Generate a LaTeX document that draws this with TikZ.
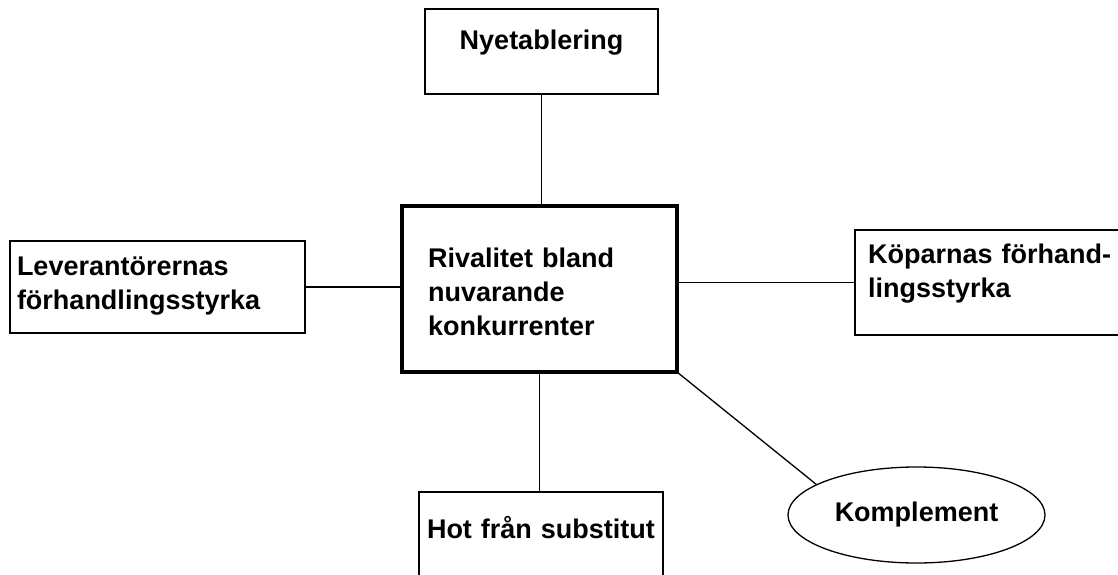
\documentclass[tikz,border=0pt]{standalone}
\usepackage{fontspec}
\setmainfont{Liberation Sans}
\usetikzlibrary{shapes.geometric}

\begin{document}
\begin{tikzpicture}[
    x=1pt, y=-1pt,
    every node/.style={font=\fontsize{27}{34}\selectfont\bfseries},
    force/.style={rectangle, draw=black, line width=1.5pt, outer sep=0pt, inner ysep=0pt, anchor=north west, align=left},
    rival/.style={force, line width=4pt},
    link/.style={draw=black, line width=1.3pt},
    extra/.style={ellipse, draw=black, line width=1.3pt, inner sep=0pt, minimum width=257pt, minimum height=96pt}
]
\useasboundingbox (0,0) rectangle (1118,575);

% the five forces
\node (riv) [rival, inner xsep=26pt, text width=223pt, text height=61pt, text depth=105pt] at (402,206) {Rivalitet bland\\nuvarande\\konkurrenter};
\node (nyet) [force, inner xsep=0pt, text width=233pt, align=center, text height=41pt, text depth=44pt] at (425,9) {Nyetablering};
\node (lev) [force, inner xsep=7pt, text width=281pt, text height=34pt, text depth=58pt] at (10,241) {Leverantörernas\\förhandlingsstyrka};
\node (kop) [force, inner xsep=13pt, text width=260pt, text height=33pt, text depth=72pt] at (855,230) {Köparnas förhand-\\lingsstyrka};
\node (hot) [force, inner xsep=8pt, text width=228pt, text height=46pt, text depth=42pt] at (419,492) {Hot från substitut};
\node (komp) [extra] at (916.5,515) {Komplement};

% connectors
\draw [link] (nyet.south) -- (nyet.south |- riv.north);
\draw [link] (lev.east) -- (lev.east -| riv.west);
\draw [link] (riv.east |- kop.west) -- (kop.west);
\draw [link] (riv.south) -- (riv.south |- hot.north);
\draw [link] (riv.south east) -- (komp.163);
\end{tikzpicture}
\end{document}
